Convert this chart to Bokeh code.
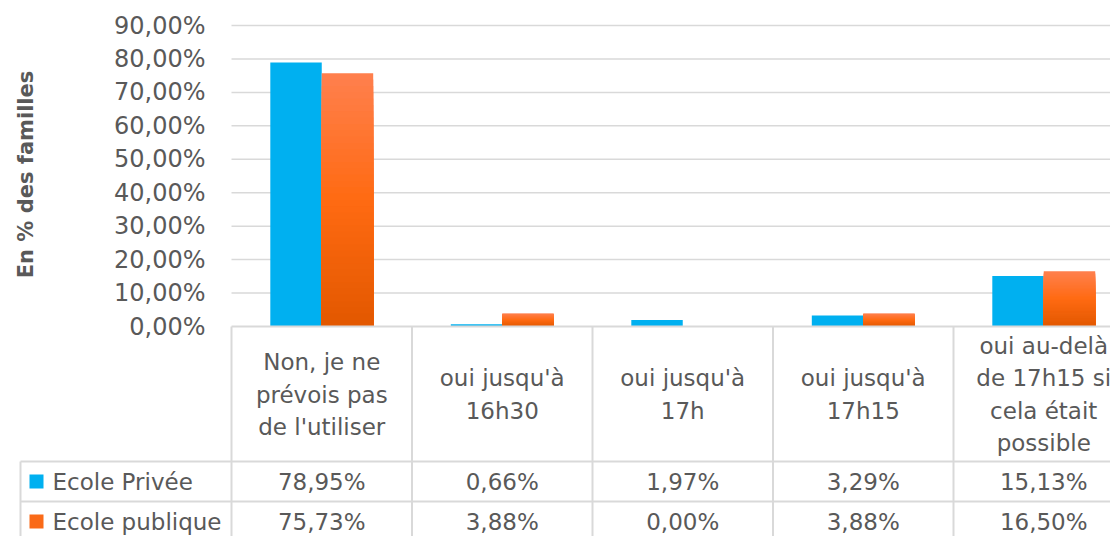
import math
from bokeh.plotting import figure
from bokeh.models import Range1d, FixedTicker
from bokeh.core.properties import value
from bokeh.embed import file_html
from bokeh.resources import INLINE

# ---------------- data ----------------
categories = [
    "Non, je ne\nprévois pas\nde l'utiliser",
    "oui jusqu'à\n16h30",
    "oui jusqu'à\n17h",
    "oui jusqu'à\n17h15",
    "oui au-delà\nde 17h15 si\ncela était\npossible",
]
series_names = ["Ecole Privée", "Ecole publique"]
prive = [78.95, 0.66, 1.97, 3.29, 15.13]
publique = [75.73, 3.88, 0.00, 3.88, 16.50]
y_ticks = [0, 10, 20, 30, 40, 50, 60, 70, 80, 90]
y_title = "En % des familles"

# ---------------- style / layout ----------------
FONT = "DejaVu Sans"
TXT = "#595959"
GRID = "#D9D9D9"
BLUE = "#00B0F0"
ORANGE = "#FA6A18"
PX_CAT = 180.5          # pixels per category
PX_PCT = 3.344          # pixels per percent
W, H = 1110, 536
X0_PX = 231             # x of first category boundary
BASE_PX = 326           # y of 0 %
BAR_W = 0.285

def xd(px):             # pixel x -> data x
    return (px - X0_PX) / PX_CAT

def yd(py):             # pixel y -> data y
    return (BASE_PX - py) / PX_PCT

x_start, x_end = xd(0), xd(W)
y_start, y_end = yd(H), yd(0)

fmt = lambda v: f"{v:.2f}".replace(".", ",") + "%"

p = figure(width=W, height=H, output_backend="svg", toolbar_location=None,
           x_range=Range1d(x_start, x_end), y_range=Range1d(y_start, y_end),
           x_axis_location=None, min_border=0,
           min_border_left=0, min_border_right=0, min_border_top=0, min_border_bottom=0)
p.outline_line_color = None
p.grid.grid_line_color = None

# y axis drawn at the first category boundary
ya = p.yaxis[0]
ya.fixed_location = 0
ya.bounds = (y_ticks[0], y_ticks[-1])
ya.ticker = FixedTicker(ticks=y_ticks)
ya.major_label_overrides = {float(t): fmt(t) for t in y_ticks}
ya.major_label_text_font = FONT
ya.major_label_text_font_size = "24px"
ya.major_label_text_color = TXT
ya.major_tick_line_color = None
ya.major_tick_out = 0
ya.major_tick_in = 0
ya.minor_tick_line_color = None
ya.minor_tick_out = 0
ya.axis_line_color = None
ya.major_label_standoff = 26

n = len(categories)
centers = [i + 0.5 for i in range(n)]
far = x_end + 1

# gridlines
gt = [t for t in y_ticks if t > 0]
p.segment(x0=[0] * len(gt), y0=gt, x1=[far] * len(gt), y1=gt,
          line_color=GRID, line_width=1.5)

# blue bars
p.vbar(x=[c - BAR_W / 2 for c in centers], top=prive, bottom=0, width=BAR_W,
       fill_color=BLUE, line_color=None)

# orange bars with vertical gradient (light top -> dark bottom)
def lerp(a, b, t):
    return tuple(round(a[k] + (b[k] - a[k]) * t) for k in range(3))

c_top, c_mid, c_bot = (255, 128, 78), (255, 106, 18), (226, 88, 0)
N = 40
ox, ot, oc = [], [], []
for i, v in enumerate(publique):
    if v <= 0:
        continue
    for k in range(N, 0, -1):       # largest first, smaller drawn on top
        f = k / N
        t = 1 - (k - 0.5) / N       # 0 = top, 1 = bottom
        col = lerp(c_top, c_mid, t / 0.5) if t < 0.5 else lerp(c_mid, c_bot, (t - 0.5) / 0.5)
        ox.append(centers[i] + BAR_W / 2)
        ot.append(v * f)
        oc.append("#%02x%02x%02x" % col)
p.vbar(x=ox, bottom=0, top=ot, width=BAR_W, fill_color=oc, line_color=None)

# ---------------- data table ----------------
leg_left = xd(20)
header_bottom = yd(461)
row1_bottom = yd(501)
bottom_far = y_start - 5

# baseline / table top
p.segment(x0=[0], y0=[0], x1=[far], y1=[0], line_color=GRID, line_width=2)
# vertical lines
p.segment(x0=list(range(n)), y0=[0] * n, x1=list(range(n)), y1=[bottom_far] * n,
          line_color=GRID, line_width=2)
p.segment(x0=[leg_left], y0=[header_bottom], x1=[leg_left], y1=[bottom_far],
          line_color=GRID, line_width=2)
# horizontal lines
p.segment(x0=[leg_left, leg_left], y0=[header_bottom, row1_bottom],
          x1=[far, far], y1=[header_bottom, row1_bottom],
          line_color=GRID, line_width=2)

# header labels
p.text(x=centers, y=[yd(394)] * n, text=categories,
       text_font=value(FONT), text_font_size="23px", text_color=TXT,
       text_align="center", text_baseline="middle", text_line_height=1.25)

row_y = [yd(481), yd(521)]
for r, vals in enumerate([prive, publique]):
    p.text(x=centers, y=[row_y[r]] * n, text=[fmt(v) for v in vals],
           text_font=value(FONT), text_font_size="23px", text_color=TXT,
           text_align="center", text_baseline="middle")

# legend keys in the table
p.scatter(x=[xd(36)], y=[row_y[0]], marker="square", size=14,
          fill_color=BLUE, line_color=None)
p.scatter(x=[xd(36)], y=[row_y[1]], marker="square", size=14,
          fill_color=ORANGE, line_color=None)
p.text(x=[xd(52)] * 2, y=row_y, text=series_names,
       text_font=value(FONT), text_font_size="23px", text_color=TXT,
       text_align="left", text_baseline="middle")

# y axis title
p.text(x=[xd(25)], y=[yd(174)], text=[y_title], angle=math.pi / 2,
       text_font=value(FONT), text_font_style="bold", text_font_size="21px",
       text_color=TXT, text_align="center", text_baseline="middle")

open("out.html", "w").write(file_html(p, INLINE))
